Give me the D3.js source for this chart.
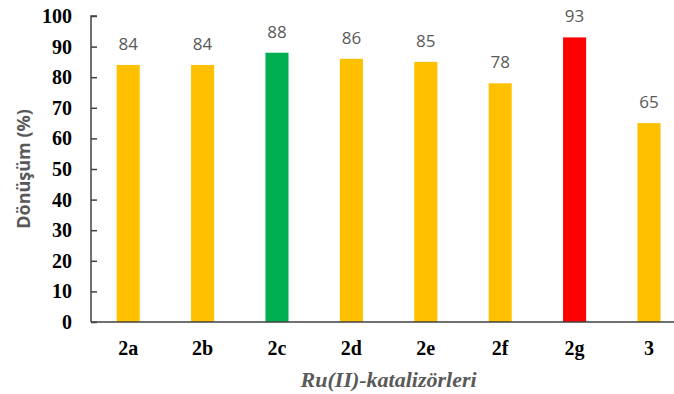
<!DOCTYPE html>
<html>
<head>
<meta charset="utf-8">
<script src="https://cdn.jsdelivr.net/npm/d3@7"></script>
<style>
  html, body { margin: 0; padding: 0; background: #fff; }
  svg { display: block; }
</style>
</head>
<body>
<svg id="chart" width="674" height="394"></svg>
<script>
// Catalyst conversion data
const categories = ["2a", "2b", "2c", "2d", "2e", "2f", "2g", "3"];
const conversions = [84, 84, 88, 86, 85, 78, 93, 65];
const barColors = ["#FFC000", "#FFC000", "#00B050", "#FFC000", "#FFC000", "#FFC000", "#FF0000", "#FFC000"];
const yTicks = [0, 10, 20, 30, 40, 50, 60, 70, 80, 90, 100];
const yTitle = "Dönüşüm (%)";
const xTitle = "Ru(II)-katalizörleri";

(function () {
const svg = d3.select("#chart");
const W = 674;
const plotLeft = 91, plotTop = 16, plotBottom = 322;
const step = 74.4;

const x = d3.scaleBand()
  .domain(categories)
  .range([plotLeft, plotLeft + step * categories.length])
  .paddingInner(0.69)
  .paddingOuter(0.345);

const y = d3.scaleLinear().domain([0, 100]).range([plotBottom, plotTop]);

// Bars
svg.append("g").selectAll("rect")
  .data(categories)
  .join("rect")
  .attr("x", d => x(d))
  .attr("width", x.bandwidth())
  .attr("y", (d, i) => y(conversions[i]))
  .attr("height", (d, i) => y(0) - y(conversions[i]))
  .attr("fill", (d, i) => barColors[i]);

// Value labels
svg.append("g").selectAll("text")
  .data(categories)
  .join("text")
  .attr("x", d => x(d) + x.bandwidth() / 2)
  .attr("y", (d, i) => y(conversions[i]) - 15)
  .attr("text-anchor", "middle")
  .attr("font-family", "Open Sans, sans-serif")
  .attr("font-size", 17)
  .attr("fill", "#595959")
  .text((d, i) => conversions[i]);

// Y axis with inward ticks
const yAxis = svg.append("g")
  .attr("transform", `translate(${plotLeft},0)`)
  .call(d3.axisRight(y).tickValues(yTicks).tickSize(6).tickFormat(""));
yAxis.select(".domain").attr("stroke", "#404040").attr("stroke-width", 1.5)
  .attr("d", `M6,${plotTop}H0V${plotBottom}`);
yAxis.selectAll(".tick line").attr("stroke", "#404040").attr("stroke-width", 1.5);

svg.append("g").selectAll("text")
  .data(yTicks)
  .join("text")
  .attr("x", 72)
  .attr("y", d => y(d))
  .attr("dy", "0.35em")
  .attr("text-anchor", "end")
  .attr("font-family", "Liberation Serif, Times New Roman, serif")
  .attr("font-weight", "bold")
  .attr("font-size", 20)
  .attr("fill", "#000")
  .text(d => d);

// X axis line
svg.append("line")
  .attr("x1", plotLeft).attr("x2", W)
  .attr("y1", plotBottom).attr("y2", plotBottom)
  .attr("stroke", "#404040").attr("stroke-width", 1.5);

// Category labels
svg.append("g").selectAll("text")
  .data(categories)
  .join("text")
  .attr("x", d => x(d) + x.bandwidth() / 2)
  .attr("y", 355)
  .attr("text-anchor", "middle")
  .attr("font-family", "Liberation Serif, Times New Roman, serif")
  .attr("font-weight", "bold")
  .attr("font-size", 20)
  .attr("fill", "#000")
  .text(d => d);

// Axis titles
svg.append("text")
  .attr("x", plotLeft + step * categories.length / 2)
  .attr("y", 387)
  .attr("text-anchor", "middle")
  .attr("font-family", "Liberation Serif, Times New Roman, serif")
  .attr("font-weight", "bold")
  .attr("font-style", "italic")
  .attr("font-size", 22)
  .attr("fill", "#595959")
  .text(xTitle);

svg.append("text")
  .attr("transform", `translate(30,${(plotTop + plotBottom) / 2}) rotate(-90)`)
  .attr("text-anchor", "middle")
  .attr("font-family", "Open Sans, sans-serif")
  .attr("font-weight", "bold")
  .attr("font-size", 18)
  .attr("fill", "#595959")
  .text(yTitle);
})();
</script>
</body>
</html>
